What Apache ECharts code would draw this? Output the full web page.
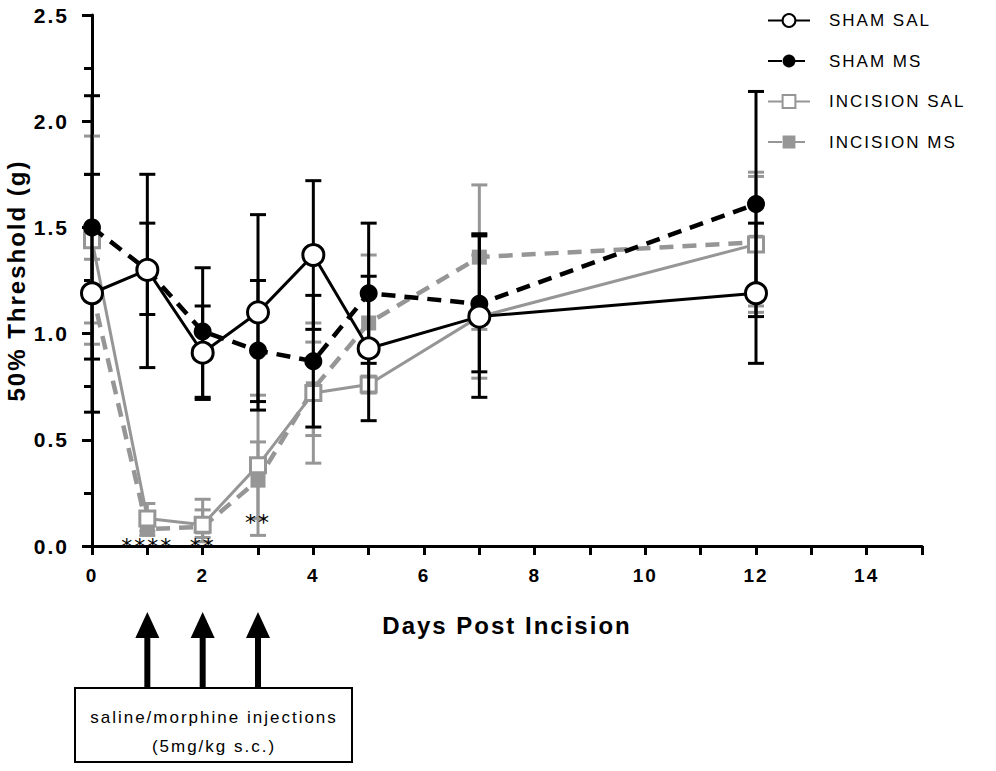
<!doctype html>
<html>
<head>
<meta charset="utf-8">
<title>Threshold chart</title>
<script src="https://cdn.jsdelivr.net/npm/echarts@6/dist/echarts.min.js"></script>
<style>
  html, body { margin: 0; padding: 0; background: #fff; }
  #main { width: 996px; height: 771px; }
  #main text { letter-spacing: 2px; }
</style>
</head>
<body>
<div id="main"></div>
<script>
  // days after incision
  var days = [0, 1, 2, 3, 4, 5, 7, 12];

  var shamSal     = [1.19, 1.30, 0.91, 1.10, 1.37, 0.93, 1.08, 1.19];
  var shamSalLow  = [0.63, 0.84, 0.69, 0.64, 1.02, 0.59, 0.70, 0.86];
  var shamSalHigh = [1.75, 1.75, 1.13, 1.56, 1.72, 1.27, 1.46, 1.52];

  var shamMs     = [1.50, 1.30, 1.01, 0.92, 0.87, 1.19, 1.14, 1.61];
  var shamMsLow  = [0.88, 1.09, 0.70, 0.68, 0.56, 0.86, 0.82, 1.08];
  var shamMsHigh = [2.12, 1.52, 1.31, 1.25, 1.18, 1.52, 1.47, 2.14];

  var incSal     = [1.44, 0.13, 0.10, 0.38, 0.72, 0.76, 1.08, 1.42];
  var incSalLow  = [0.95, 0.07, 0.02, 0.05, 0.39, 0.72, 0.79, 1.10];
  var incSalHigh = [1.93, 0.20, 0.22, 0.71, 1.05, 0.80, 1.37, 1.74];

  var incMs     = [1.20, 0.08, 0.09, 0.31, 0.74, 1.05, 1.36, 1.43];
  var incMsLow  = [1.05, 0.05, 0.04, 0.13, 0.52, 0.73, 1.02, 1.13];
  var incMsHigh = [1.35, 0.11, 0.17, 0.49, 0.96, 1.37, 1.70, 1.76];

  var seriesNames = ['SHAM SAL', 'SHAM MS', 'INCISION SAL', 'INCISION MS'];

  // significance marks: [day, y, text]
  var sigMarks = [[1, 0, '****'], [2, 0, '**'], [3, 0.11, '**']];
  var injectionDays = [1, 2, 3];
  var noteLines = ['saline/morphine injections', '(5mg/kg s.c.)'];

  var GREY = '#969696';

  function pairs(ys) {
    return days.map(function (d, i) { return [d, ys[i]]; });
  }
  function bars(lo, hi) {
    return days.map(function (d, i) { return [d, lo[i], hi[i]]; });
  }

  function errBar(color) {
    return function (params, api) {
      var x = api.value(0);
      var lo = api.coord([x, api.value(1)]);
      var hi = api.coord([x, api.value(2)]);
      var h = 8;
      var st = { stroke: color, lineWidth: 3 };
      return {
        type: 'group',
        children: [
          { type: 'line', shape: { x1: lo[0], y1: lo[1], x2: hi[0], y2: hi[1] }, style: st },
          { type: 'line', shape: { x1: lo[0] - h, y1: lo[1], x2: lo[0] + h, y2: lo[1] }, style: st },
          { type: 'line', shape: { x1: hi[0] - h, y1: hi[1], x2: hi[0] + h, y2: hi[1] }, style: st }
        ]
      };
    };
  }

  function errSeries(name, lo, hi, color, z) {
    return {
      name: name + ' err',
      type: 'custom',
      data: bars(lo, hi),
      encode: { x: 0, y: [1, 2] },
      renderItem: errBar(color),
      clip: false,
      silent: true,
      z: z
    };
  }

  var chart = echarts.init(document.getElementById('main'), null, { renderer: 'svg' });

  var option = {
    animation: false,
    backgroundColor: '#fff',
    textStyle: { fontFamily: 'Liberation Sans, Arial, sans-serif' },
    grid: { left: 92, right: 74, top: 15, bottom: 225, containLabel: false, outerBoundsMode: 'none' },
    legend: {
      data: seriesNames.map(function (n) { return { name: n }; }),
      orient: 'vertical',
      left: 762,
      top: 7,
      itemWidth: 42,
      itemHeight: 16,
      itemGap: 23.5,
      textStyle: { fontSize: 17, color: '#000', padding: [0, 0, 0, 14] }
    },
    xAxis: {
      type: 'value',
      min: 0,
      max: 15,
      interval: 1,
      name: 'Days Post Incision',
      nameLocation: 'middle',
      nameGap: 67,
      nameTextStyle: { fontSize: 24, fontWeight: 'bold', color: '#000' },
      axisLine: { show: true, lineStyle: { color: '#000', width: 3 } },
      axisTick: { show: true, length: 9, lineStyle: { color: '#000', width: 3 } },
      axisLabel: {
        margin: 20,
        fontSize: 19,
        fontWeight: 'bold',
        color: '#000',
        fontFamily: 'Liberation Sans Narrow, Liberation Sans, Arial',
        formatter: function (v) { return v % 2 === 0 ? String(v) : ''; }
      },
      splitLine: { show: false }
    },
    yAxis: {
      type: 'value',
      min: 0,
      max: 2.5,
      interval: 0.5,
      name: '50% Threshold (g)',
      nameLocation: 'middle',
      nameGap: 58,
      nameTextStyle: { fontSize: 24, fontWeight: 'bold', color: '#000' },
      axisLine: { show: true, lineStyle: { color: '#000', width: 3 } },
      axisTick: { show: true, length: 10, lineStyle: { color: '#000', width: 3 } },
      minorTick: { show: true, splitNumber: 2, length: 8, lineStyle: { color: '#000', width: 3 } },
      axisLabel: {
        margin: 23,
        fontSize: 21,
        fontWeight: 'bold',
        color: '#000',
        formatter: function (v) { return v.toFixed(1); }
      },
      splitLine: { show: false }
    },
    series: [
      errSeries('INCISION MS', incMsLow, incMsHigh, GREY, 1),
      errSeries('INCISION SAL', incSalLow, incSalHigh, GREY, 1),
      {
        name: 'INCISION MS',
        type: 'line',
        data: pairs(incMs),
        symbol: 'rect',
        symbolSize: 15,
        lineStyle: { color: GREY, width: 4.5, type: [14, 9] },
        itemStyle: { color: GREY, borderWidth: 0 },
        z: 2
      },
      {
        name: 'INCISION SAL',
        type: 'line',
        data: pairs(incSal),
        symbol: 'rect',
        symbolSize: 15,
        lineStyle: { color: GREY, width: 3 },
        itemStyle: { color: '#fff', borderColor: GREY, borderWidth: 3 },
        z: 2
      },
      errSeries('SHAM MS', shamMsLow, shamMsHigh, '#000', 3),
      errSeries('SHAM SAL', shamSalLow, shamSalHigh, '#000', 3),
      {
        name: 'SHAM MS',
        type: 'line',
        data: pairs(shamMs),
        symbol: 'circle',
        symbolSize: 18,
        lineStyle: { color: '#000', width: 4.5, type: [14, 9] },
        itemStyle: { color: '#000', borderWidth: 0 },
        z: 4
      },
      {
        name: 'SHAM SAL',
        type: 'line',
        data: pairs(shamSal),
        symbol: 'circle',
        symbolSize: 21,
        lineStyle: { color: '#000', width: 3 },
        itemStyle: { color: '#fff', borderColor: '#000', borderWidth: 3 },
        z: 4
      },
      {
        name: 'sig',
        type: 'custom',
        data: sigMarks,
        encode: { x: 0, y: 1 },
        clip: false,
        silent: true,
        z: 6,
        renderItem: function (params, api) {
          var p = api.coord([api.value(0), api.value(1)]);
          return {
            type: 'text',
            x: p[0],
            y: p[1],
            style: {
              text: sigMarks[params.dataIndex][2],
              fill: '#000',
              fontSize: 22,
              fontFamily: 'DejaVu Sans',
              textAlign: 'center',
              textVerticalAlign: 'middle'
            }
          };
        }
      }
    ]
  };

  chart.setOption(option);

  // injection arrows under the x axis, placed at their days
  var graphics = [];
  injectionDays.forEach(function (d) {
    var x = chart.convertToPixel({ xAxisIndex: 0 }, d);
    graphics.push({
      type: 'rect',
      shape: { x: x - 3, y: 636, width: 6, height: 52 },
      style: { fill: '#000' }
    });
    graphics.push({
      type: 'polygon',
      shape: { points: [[x - 12, 638], [x + 12, 638], [x, 612]] },
      style: { fill: '#000' }
    });
  });
  graphics.push({
    type: 'rect',
    shape: { x: 75, y: 688, width: 277, height: 74 },
    style: { fill: '#fff', stroke: '#000', lineWidth: 2 }
  });
  graphics.push({
    type: 'text',
    x: 214,
    y: 732,
    style: {
      text: noteLines.join('\n'),
      fill: '#000',
      fontSize: 17,
      lineHeight: 29,
      fontFamily: 'Liberation Sans, Arial',
      textAlign: 'center',
      textVerticalAlign: 'middle'
    }
  });
  chart.setOption({ graphic: graphics });
</script>
</body>
</html>
